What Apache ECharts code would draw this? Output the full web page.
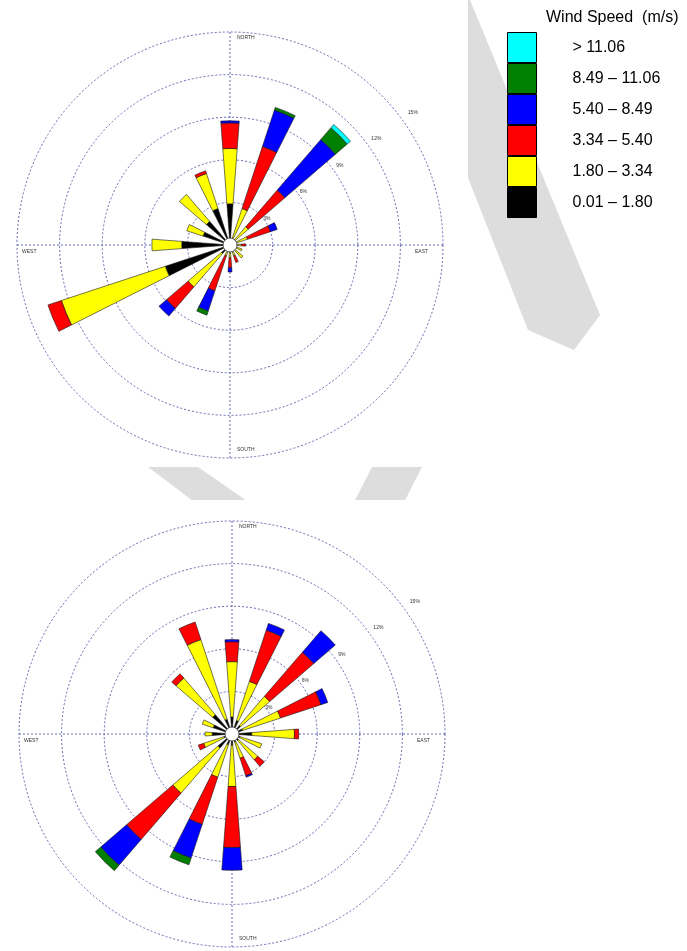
<!DOCTYPE html>
<html>
<head>
<meta charset="utf-8">
<script src="https://cdn.jsdelivr.net/npm/echarts@6/dist/echarts.min.js"></script>
<style>
  html, body { margin: 0; padding: 0; background: #ffffff; }
  #chart { width: 687px; height: 951px; }
</style>
</head>
<body>
<div id="chart"></div>
<script>
// 16 compass sectors, clockwise from north
const directions = ['N', 'NNE', 'NE', 'ENE', 'E', 'ESE', 'SE', 'SSE', 'S', 'SSW', 'SW', 'WSW', 'W', 'WNW', 'NW', 'NNW'];

// wind speed classes (m/s), stacked from the centre outwards
const speedClasses = ['0.01 – 1.80', '1.80 – 3.34', '3.34 – 5.40', '5.40 – 8.49', '8.49 – 11.06', '> 11.06'];
const classColors = ['#000000', '#ffff00', '#ff0000', '#0000ff', '#007f00', '#00ffff'];

// ring values of the radial frequency scale (%)
const ringTicks = [3, 6, 9, 12, 15];
const compassNames = ['NORTH', 'EAST', 'SOUTH', 'WEST'];

// upper rose: frequency (%) per direction for each speed class
const upper0to180 = [2.9, 0.5, 0.5, 0.4, 0.3, 0.3, 0.3, 0.3, 0.3, 0.3, 0.8, 4.8, 3.4, 2.0, 2.2, 2.7];
const upper180to334 = [3.9, 2.2, 1.2, 0.9, 0.5, 0.6, 0.9, 0.5, 0.6, 0.5, 3.1, 7.7, 2.1, 1.2, 2.5, 2.6];
const upper334to540 = [1.8, 4.6, 3.4, 1.7, 0.3, 0, 0, 0.5, 0.7, 2.6, 2.0, 1.0, 0, 0, 0, 0.2];
const upper540to849 = [0.15, 2.7, 4.7, 0.5, 0, 0, 0, 0, 0.3, 1.5, 0.7, 0, 0, 0, 0, 0];
const upper849to1106 = [0, 0.2, 1.1, 0, 0, 0, 0, 0, 0, 0.3, 0, 0, 0, 0, 0, 0];
const upperAbove1106 = [0, 0, 0.3, 0, 0, 0, 0, 0, 0, 0, 0, 0, 0, 0, 0, 0];

// lower rose: frequency (%) per direction for each speed class
const lower0to180 = [1.2, 1.0, 0.8, 0.8, 1.4, 0.6, 0.6, 0.6, 0.8, 0.8, 1.3, 0.6, 1.4, 1.4, 1.8, 1.1];
const lower180to334 = [3.9, 2.9, 2.7, 2.8, 3.0, 1.6, 1.8, 1.2, 2.9, 2.4, 4.2, 1.5, 0.5, 0.8, 3.4, 5.9];
const lower334to540 = [1.4, 3.8, 4.1, 3.0, 0.3, 0, 0.6, 1.3, 4.3, 3.5, 4.3, 0.4, 0, 0, 0.4, 1.3];
const lower540to849 = [0.15, 0.5, 2.0, 0.5, 0, 0, 0, 0.1, 1.6, 2.5, 2.4, 0, 0, 0, 0, 0];
const lower849to1106 = [0, 0, 0, 0, 0, 0, 0, 0, 0, 0.5, 0.5, 0, 0, 0, 0, 0];
const lowerAbove1106 = [0, 0, 0, 0, 0, 0, 0, 0, 0, 0, 0, 0, 0, 0, 0, 0];

const upperRose = [upper0to180, upper180to334, upper334to540, upper540to849, upper849to1106, upperAbove1106];
const lowerRose = [lower0to180, lower180to334, lower334to540, lower540to849, lower849to1106, lowerAbove1106];

// layout
const R = 213;
const upperCenter = [230, 245];
const lowerCenter = [232, 734];
const HOLE = 7;
const gridColor = '#5559a8';
const gridLine = { color: gridColor, width: 0.9, type: [2, 2] };

function barPolar(center) {
  return { center: center, radius: [0, R] };
}

function sectorAxis(polarIndex) {
  return {
    polarIndex: polarIndex,
    type: 'category',
    data: directions,
    startAngle: 90 + 360 / directions.length / 2,
    clockwise: true,
    boundaryGap: true,
    axisLine: { show: false },
    axisTick: { show: false },
    axisLabel: { show: false },
    splitLine: { show: false }
  };
}

function compassAxis(polarIndex) {
  return {
    polarIndex: polarIndex,
    type: 'value',
    min: 0,
    max: 360,
    interval: 90,
    startAngle: 90,
    clockwise: true,
    axisLine: { show: false },
    axisTick: { show: false },
    axisLabel: { show: false },
    splitLine: { show: true, lineStyle: gridLine }
  };
}

function ringAxis(polarIndex, showRings) {
  return {
    polarIndex: polarIndex,
    type: 'value',
    min: 0,
    max: ringTicks[ringTicks.length - 1],
    interval: ringTicks[0],
    axisLine: { show: false },
    axisTick: { show: false },
    axisLabel: { show: false },
    splitLine: { show: showRings, lineStyle: gridLine }
  };
}

function roseSeries(rose, polarIndex) {
  return rose.map(function (values, k) {
    return {
      type: 'bar',
      name: speedClasses[k],
      coordinateSystem: 'polar',
      polarIndex: polarIndex,
      stack: 'rose' + polarIndex,
      barWidth: '38%',
      silent: true,
      data: values.map(function (v) { return v > 0 ? v : '-'; }),
      itemStyle: { color: classColors[k], borderColor: '#1a1a1a', borderWidth: 0.6 }
    };
  });
}

// tiny scale and compass labels placed around each rose
function roseLabels(center) {
  const items = [];
  const textStyle = { fill: '#333', font: '5px "Liberation Sans", Arial, sans-serif' };
  const cx = center[0], cy = center[1];
  const spots = [
    [cx + 7, cy - R + 6, 'left'],
    [cx + R - 28, cy + 7, 'left'],
    [cx + 7, cy + R - 8, 'left'],
    [cx - R + 5, cy + 7, 'left']
  ];
  compassNames.forEach(function (name, i) {
    items.push({
      type: 'text', z: 20, silent: true,
      style: Object.assign({ text: name, x: spots[i][0], y: spots[i][1], align: spots[i][2], verticalAlign: 'middle' }, textStyle)
    });
  });
  const bearing = 54 * Math.PI / 180;
  const maxTick = ringTicks[ringTicks.length - 1];
  ringTicks.forEach(function (t, i) {
    const r = R * t / maxTick + 3 + 2.5 * i;
    items.push({
      type: 'text', z: 20, silent: true,
      style: Object.assign({ text: t + '%', x: cx + r * Math.sin(bearing), y: cy - r * Math.cos(bearing), align: 'center', verticalAlign: 'middle' }, textStyle)
    });
  });
  items.push({
    type: 'circle', z: 15, silent: true,
    shape: { cx: cx, cy: cy, r: HOLE },
    style: { fill: '#ffffff', stroke: '#333333', lineWidth: 0.8 }
  });
  return items;
}

// light grey page mark behind the two plot panels, then the white panels
const backdrop = [
  { type: 'polygon', z: -20, silent: true, shape: { points: [[398, 0], [470, 0], [600, 315], [574, 350], [528, 330]] }, style: { fill: '#dddddd' } },
  { type: 'polygon', z: -20, silent: true, shape: { points: [[148, 467], [198, 467], [260, 510], [205, 510]] }, style: { fill: '#dddddd' } },
  { type: 'polygon', z: -20, silent: true, shape: { points: [[372, 467], [422, 467], [400, 510], [350, 510]] }, style: { fill: '#dddddd' } },
  { type: 'rect', z: -10, silent: true, shape: { x: 0, y: 0, width: 468, height: 467 }, style: { fill: '#ffffff' } },
  { type: 'rect', z: -10, silent: true, shape: { x: 0, y: 500, width: 468, height: 451 }, style: { fill: '#ffffff' } }
];

const chart = echarts.init(document.getElementById('chart'), null, { renderer: 'canvas' });

chart.setOption({
  animation: false,
  backgroundColor: '#ffffff',
  title: {
    text: 'Wind Speed  (m/s)',
    left: 546,
    top: 10,
    padding: 0,
    textStyle: { fontFamily: '"Liberation Sans", Arial, sans-serif', fontSize: 16, fontWeight: 'normal', color: '#000000' }
  },
  legend: {
    orient: 'vertical',
    left: 507,
    top: 32,
    padding: 0,
    itemWidth: 29,
    itemHeight: 30,
    itemGap: 0,
    icon: 'rect',
    selectedMode: false,
    data: speedClasses.slice().reverse(),
    itemStyle: { borderColor: '#000000', borderWidth: 1 },
    textStyle: { fontFamily: '"Liberation Sans", Arial, sans-serif', fontSize: 16, color: '#000000', padding: [0, 0, 0, 31] }
  },
  polar: [barPolar(upperCenter), barPolar(upperCenter), barPolar(lowerCenter), barPolar(lowerCenter)],
  angleAxis: [sectorAxis(0), compassAxis(1), sectorAxis(2), compassAxis(3)],
  radiusAxis: [ringAxis(0, true), ringAxis(1, false), ringAxis(2, true), ringAxis(3, false)],
  series: roseSeries(upperRose, 0).concat(roseSeries(lowerRose, 2)),
  graphic: { elements: backdrop.concat(roseLabels(upperCenter), roseLabels(lowerCenter)) }
});
</script>
</body>
</html>
